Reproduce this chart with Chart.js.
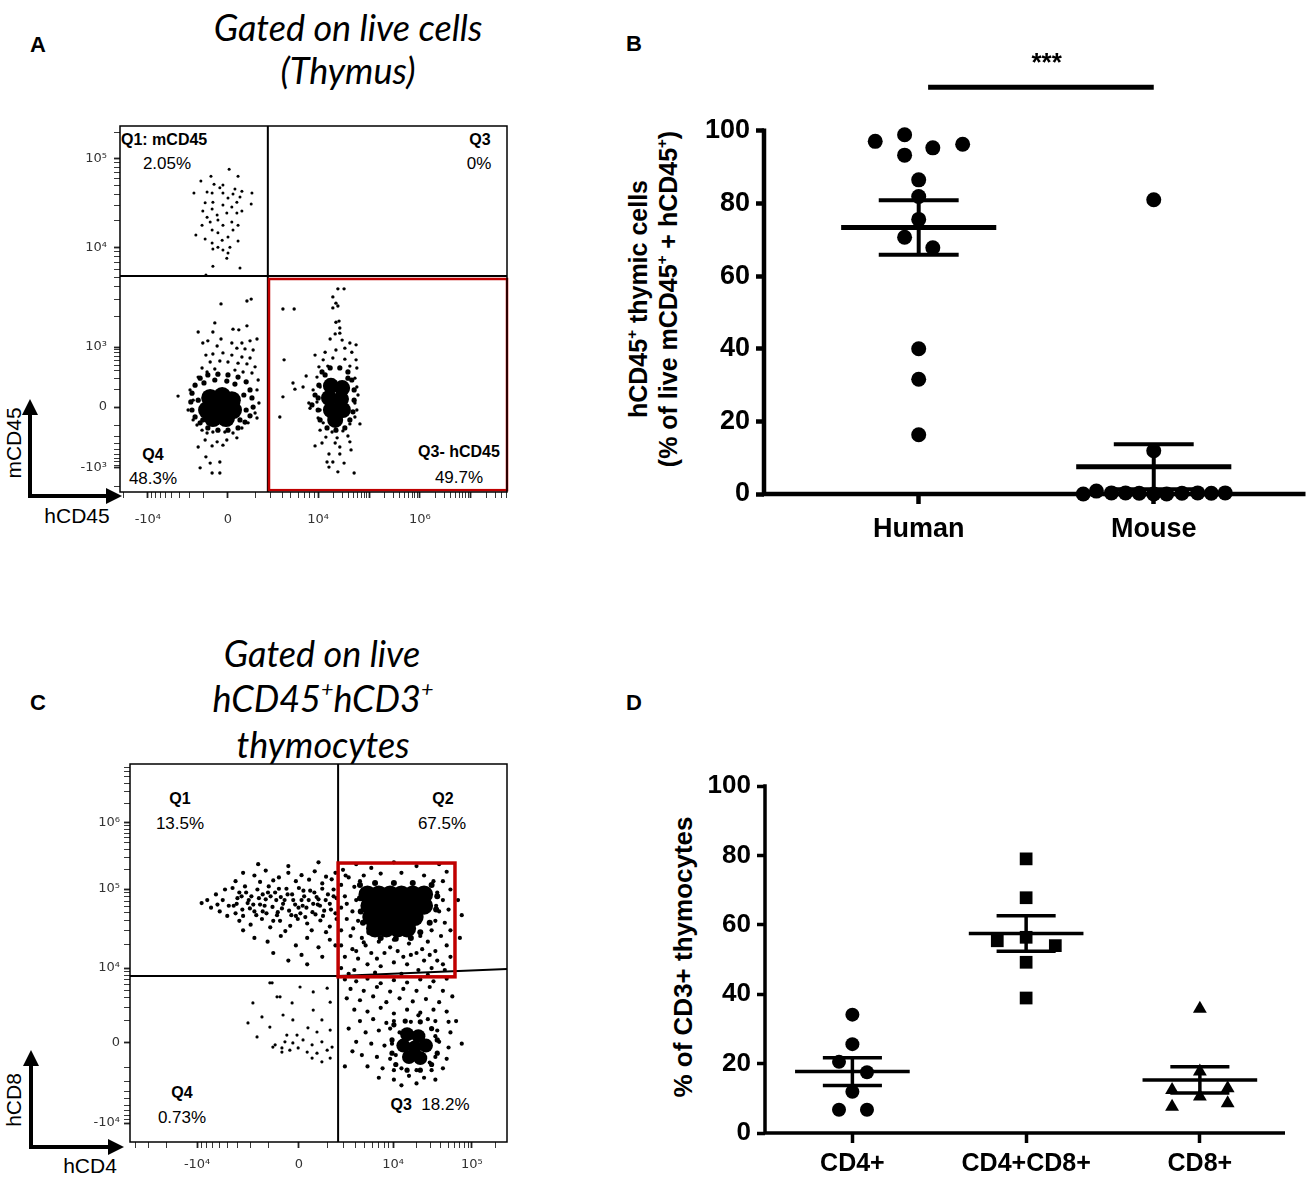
<!DOCTYPE html>
<html>
<head>
<meta charset="utf-8">
<script src="https://cdn.jsdelivr.net/npm/chart.js@4.4.1/dist/chart.umd.min.js"></script>
<style>
  body { margin: 0; width: 1313px; height: 1178px; position: relative; background: #fff; overflow: hidden;
         font-family: "Liberation Sans", Arial, sans-serif; color: #000; }
  canvas { position: absolute; }
  .t { position: absolute; transform: translate(-50%, -50%); white-space: nowrap; line-height: 1; }
  .l { position: absolute; transform: translate(0, -50%); white-space: nowrap; line-height: 1; }
  .rot { transform: translate(-50%, -50%) rotate(-90deg); }
  .letter { font-weight: bold; font-size: 22px; }
  .title { font-family: Lato, "Liberation Sans", sans-serif; font-style: italic; font-size: 36px; }
  .qb { font-weight: bold; font-size: 16px; }
  .qn { font-size: 17px; }
  .ax { font-size: 21px; }
  sup { font-size: 60%; vertical-align: 0.7em; line-height: 0; }
</style>
</head>
<body>

<svg style="position:absolute;left:0;top:0" width="1313" height="1178">
  <g stroke="#000" stroke-width="4" fill="none">
    <path d="M30,498 V412 M28,496 H108"/>
    <path d="M31,1149 V1064 M29,1147 H110"/>
  </g>
  <g fill="#000">
    <polygon points="30,399 22,415 38,415"/>
    <polygon points="122,496 106,488 106,504"/>
    <polygon points="31,1050 23,1066 39,1066"/>
    <polygon points="124,1147 108,1139 108,1155"/>
  </g>
</svg>

<!-- panel A text -->
<div class="t letter" style="left:38px;top:45px">A</div>
<div class="t title" style="left:348px;top:27px">Gated on live cells</div>
<div class="t title" style="left:348px;top:70px">(Thymus)</div>
<div class="l qb" style="left:121px;top:140px">Q1: mCD45</div>
<div class="t qn" style="left:167px;top:163px">2.05%</div>
<div class="t qb" style="left:480px;top:140px">Q3</div>
<div class="t qn" style="left:479px;top:163px">0%</div>
<div class="t qb" style="left:153px;top:455px">Q4</div>
<div class="t qn" style="left:153px;top:478px">48.3%</div>
<div class="t qb" style="left:459px;top:452px">Q3- hCD45</div>
<div class="t qn" style="left:459px;top:477px">49.7%</div>
<div class="t ax rot" style="left:13px;top:443px">mCD45</div>
<div class="t ax" style="left:77px;top:515px">hCD45</div>

<!-- panel B text -->
<div class="t letter" style="left:634px;top:44px">B</div>
<div class="t rot" style="left:653px;top:299px;font-weight:bold;font-size:25px;line-height:30px;text-align:center">hCD45<sup>+</sup> thymic cells<br>(% of live mCD45<sup>+</sup> + hCD45<sup>+</sup>)</div>

<!-- panel C text -->
<div class="t letter" style="left:38px;top:703px">C</div>
<div class="t title" style="left:322px;top:653px">Gated on live</div>
<div class="t title" style="left:323px;top:698px">hCD45<sup>+</sup>hCD3<sup>+</sup></div>
<div class="t title" style="left:323px;top:744px">thymocytes</div>
<div class="t qb" style="left:180px;top:799px">Q1</div>
<div class="t qn" style="left:180px;top:823px">13.5%</div>
<div class="t qb" style="left:443px;top:799px">Q2</div>
<div class="t qn" style="left:442px;top:823px">67.5%</div>
<div class="t qb" style="left:182px;top:1093px">Q4</div>
<div class="t qn" style="left:182px;top:1117px">0.73%</div>
<div class="t qn" style="left:430px;top:1104px"><b style="font-size:16px">Q3</b>&nbsp; 18.2%</div>
<div class="t ax rot" style="left:13px;top:1100px">hCD8</div>
<div class="t ax" style="left:90px;top:1165px">hCD4</div>

<!-- panel D text -->
<div class="t letter" style="left:634px;top:703px">D</div>
<div class="t rot" style="left:683px;top:957px;font-weight:bold;font-size:26px">% of CD3+ thymocytes</div>

<canvas id="chartA" width="460" height="430" style="left:60px;top:110px"></canvas>
<canvas id="chartB" width="713" height="530" style="left:600px;top:30px"></canvas>
<canvas id="chartC" width="460" height="428" style="left:60px;top:750px"></canvas>
<canvas id="chartD" width="673" height="438" style="left:640px;top:740px"></canvas>

<script>
// ---- panel A: flow events (display channel 0-1000 on each axis) ----
const aQ1 = [[282,882],[235,863],[305,863],[209,850],[243,841],[266,839],[191,817],[225,820],[258,831],[297,828],
  [315,822],[341,817],[238,817],[266,817],[292,814],[310,806],[220,790],[240,792],[279,803],[302,792],[339,787],
  [214,768],[238,773],[266,784],[289,779],[315,768],[225,751],[251,757],[276,762],[302,762],[233,738],[253,743],
  [289,738],[305,729],[212,729],[266,729],[238,716],[292,716],[196,702],[253,708],[279,697],[220,691],[264,688],
  [305,686],[238,680],[253,669],[284,669],[266,661],[240,664],[279,653],[276,639],[240,617],[310,612],[222,593]];
const aQ4Core = [[233,257],[264,262],[289,251],[225,224],[258,229],[292,224],[240,202],[274,202]];
const aQ4Ring = [[194,292],[207,311],[227,320],[253,322],[279,320],[305,314],[326,301],[336,279],[341,257],
  [344,232],[336,208],[323,191],[305,175],[279,169],[253,169],[227,175],[207,189],[194,205],[186,224],[183,246],
  [186,270],[217,298],[297,295],[320,265],[326,224],[310,197],[214,197],[202,251],[245,306],[276,303]];
const aQ4 = [[261,514],[328,522],[339,527],[245,462],[202,437],[240,437],[292,445],[307,443],[328,454],[214,407],
  [227,413],[261,418],[289,407],[315,407],[336,413],[354,418],[251,399],[302,393],[323,391],[344,388],[222,374],
  [240,377],[266,380],[289,374],[315,369],[336,366],[233,355],[258,358],[279,355],[305,352],[328,350],[349,342],
  [212,339],[225,328],[245,336],[297,333],[318,328],[341,325],[357,306],[202,314],[150,262],[181,279],[189,251],
  [176,224],[354,279],[359,243],[349,216],[354,202],[189,197],[199,183],[212,169],[225,161],[240,164],[271,164],
  [292,161],[315,175],[331,189],[220,142],[251,137],[276,142],[302,148],[202,123],[238,126],[266,128],[222,96],
  [233,79],[258,82],[207,66],[238,52],[258,52]];
const aQ3Core = [[545,290],[574,284],[540,257],[571,254],[545,224],[576,224],[556,197]];
const aQ3Ring = [[522,328],[543,339],[568,339],[589,328],[599,306],[605,279],[605,251],[602,219],[594,197],
  [581,175],[558,169],[535,175],[517,197],[512,224],[512,257],[514,292],[530,320],[504,265],[496,238],[589,311]];
const aQ3 = [[563,555],[579,555],[550,533],[558,516],[563,508],[550,503],[421,500],[450,500],[558,464],[566,467],
  [568,448],[556,432],[568,434],[543,418],[574,415],[594,407],[610,402],[530,382],[558,388],[581,393],[599,382],
  [504,374],[525,361],[550,366],[581,363],[610,361],[424,361],[514,342],[537,344],[594,344],[612,339],[481,317],
  [509,314],[607,311],[447,298],[473,287],[452,281],[499,279],[517,287],[612,287],[615,265],[421,260],[488,243],
  [509,246],[607,243],[491,229],[517,224],[612,224],[413,205],[512,202],[607,205],[525,189],[620,186],[594,186],
  [517,169],[548,164],[576,167],[532,150],[561,148],[589,153],[522,134],[556,134],[594,137],[504,126],[568,123],
  [597,115],[540,104],[568,104],[535,82],[550,82],[579,79],[540,68],[563,55],[605,52]];
const aXMajor = [72, 279, 512, 643.5, 775, 906.5];
const aXLabels = ["-10⁴", "0", "10⁴", "", "10⁶", ""];
const aYMajor = [66, 232, 396, 669, 910];
const aYLabels = ["-10³", "0", "10³", "10⁴", "10⁵"];
const aQuad = { x: 382, yL: 590, yR: 590 };
const aGate = { x1: 385, x2: 1000, y1: 5, y2: 582 };

// ---- panel C: flow events ----
const cQ1 = [[190,632],[205,640],[215,620],[228,655],[238,610],[246,640],[252,668],[258,598],[232,628],[262,625],
  [300,712],[330,705],[360,718],[395,700],[420,712],[455,706],[490,716],[520,702],[545,712],[280,690],[345,688],
  [380,692],[440,690],[475,694],[510,684],[535,695],[272,672],[290,660],[305,676],[322,650],[338,668],[352,655],
  [368,676],[385,660],[400,648],[415,670],[430,655],[448,672],[462,650],[478,665],[495,648],[510,670],[525,655],
  [540,668],[285,645],[315,640],[360,642],[410,640],[455,640],[500,642],[548,645],[275,625],[298,615],[312,632],
  [330,610],[345,628],[362,605],[378,622],[392,608],[406,630],[422,612],[438,628],[452,605],[468,620],[484,608],
  [498,628],[515,612],[530,630],[545,605],[280,605],[335,600],[390,600],[440,598],[492,602],[290,585],[320,575],
  [350,590],[372,568],[398,585],[425,572],[445,590],[470,578],[505,586],[530,570],[548,590],[300,560],[412,558],
  [482,560],[520,555],[330,540],[365,530],[400,545],[440,520],[470,540],[500,515],[530,535],[380,500],[455,495],
  [510,490],[545,520],[420,480],[470,470],[340,735],[420,730],[500,740],
  [296,650],[308,660],[327,628],[342,645],[357,625],[373,650],[388,640],[403,618],[418,655],[433,640],[447,620],
  [460,665],[474,640],[489,660],[504,625],[519,640],[533,615],[540,650],[318,618],[366,660],[395,670],[428,600],
  [458,625],[486,630],[512,598],[283,630],[300,598],[352,610],[380,585],[465,595]];
const cQ2Core = [[630,655],[660,655],[690,655],[720,655],[750,655],[780,655],
  [635,625],[665,625],[695,625],[725,625],[755,625],[780,625],
  [640,595],[670,595],[700,595],[730,595],[755,595],
  [650,565],[680,565],[710,565],[735,565]];
const cQ2Ring = [[610,680],[650,685],[700,685],[750,685],[800,680],[815,650],[812,615],[795,580],[770,555],
  [745,540],[705,538],[665,540],[635,555],[618,580],[612,610],[610,645]];
const cQ2 = [[565,720],[600,735],[640,725],[700,740],[760,730],[820,735],[580,700],[620,705],[665,710],[720,712],
  [780,705],[840,715],[560,680],[595,675],[830,690],[850,668],[815,660],[570,650],[600,640],[830,640],[845,615],
  [820,610],[560,620],[590,610],[605,585],[575,590],[810,585],[835,580],[800,560],[560,560],[585,545],[615,540],
  [770,545],[790,530],[825,545],[850,560],[560,520],[590,510],[625,520],[660,530],[700,535],[740,525],[775,510],
  [810,505],[840,520],[570,490],[605,485],[640,500],[675,500],[710,505],[745,495],[780,480],[815,480],[850,490],
  [560,460],[595,455],[630,470],[665,465],[700,475],[735,470],[765,455],[800,460],[835,455],[580,445],[650,448],
  [720,445],[790,442],[620,528],[690,515],[760,500],[870,640],[880,600],[875,540],[572,705],[610,690],[805,690],
  [575,630],[592,565],[812,625],[600,505],[655,485],[725,490],[795,495],[830,470]];
const cQ3Core = [[735,285],[765,280],[725,255],[755,250],[785,255],[740,225],[770,222]];
const cQ3Ring = [[700,310],[730,320],[770,318],[800,300],[815,270],[815,235],[800,205],[770,190],[735,190],
  [705,205],[695,235],[695,270]];
const cQ3 = [[570,430],[600,425],[630,432],[665,420],[700,428],[735,422],[770,430],[805,425],[840,432],[585,405],
  [620,400],[655,410],[690,398],[725,405],[760,400],[795,410],[830,400],[575,380],[610,375],[645,385],[680,370],
  [715,380],[750,372],[785,378],[820,370],[855,385],[595,350],[630,345],[665,355],[700,340],[735,350],[770,342],
  [805,350],[840,345],[610,320],[645,325],[680,315],[765,335],[810,320],[845,318],[580,300],[625,290],[660,295],
  [690,300],[815,295],[850,290],[600,265],[640,260],[675,255],[820,265],[845,250],[615,230],[655,225],[690,220],
  [810,225],[840,220],[630,200],[670,195],[700,190],[800,190],[830,195],[660,170],[700,165],[740,175],[780,170],
  [810,165],[720,150],[760,155],[590,240],[570,200],[865,320],[880,260],
  [700,320],[745,318],[790,325],[695,260],[810,280],[705,230],[795,210],[720,195],[760,190],[715,290]];
const cQ4 = [[377,421],[451,410],[523,407],[398,384],[486,397],[430,368],[531,370],[486,349],[350,331],[406,336],
  [509,323],[371,304],[432,323],[472,302],[337,278],[416,283],[443,283],[496,291],[531,296],[385,257],[411,265],
  [432,262],[459,270],[483,257],[509,265],[536,251],[446,249],[470,238],[496,235],[523,243],[424,243],[403,249],
  [483,222],[509,212],[531,222],[326,368],[313,315],[390,384],[379,251],[403,238],[371,421]];
const cXMajor = [178, 448, 698, 907];
const cXLabels = ["-10⁴", "0", "10⁴", "10⁵"];
const cYMajor = [50, 262, 460, 669, 844];
const cYLabels = ["-10⁴", "0", "10⁴", "10⁵", "10⁶"];
const cQuad = { x: 552, yL: 439, yR: 458 };
const cGate = { x1: 552, x2: 862, y1: 437, y2: 738 };

// ---- panel B: % hCD45+ thymic cells ----
const groupsB = ["Human", "Mouse"];
const humanB = [97.1, 98.9, 96.3, 93.3, 95.3, 86.5, 81.9, 75.6, 70.7, 67.8, 40.0, 31.6, 16.3];
const humanJitterB = [-0.185, -0.06, 0.187, -0.06, 0.06, 0, 0, 0, -0.06, 0.06, 0, 0, 0];
const mouseB = [81.0, 11.9, 0, 0.8, 0.3, 0.3, 0.2, 0, 0, 0.2, 0.3, 0.2, 0.3];
const mouseJitterB = [0, 0, -0.30, -0.244, -0.18, -0.12, -0.062, 0, 0.055, 0.12, 0.187, 0.245, 0.304];
const meanB = [73.4, 7.5];
const semB = [7.5, 6.2];
const sigB = { x1: 1.04, x2: 2.0, y: 112, tx: 1.544, ty: 116.5, text: "***" };

// ---- panel D: % of CD3+ thymocytes ----
const groupsD = ["CD4+", "CD4+CD8+", "CD8+"];
const cd4D = [34.1, 25.6, 20.5, 17.5, 11.9, 6.7, 6.7];
const cd4JitterD = [0, 0, -0.077, 0.084, 0, -0.077, 0.084];
const cd48D = [79.0, 67.8, 56.4, 55.4, 54.0, 49.2, 38.9];
const cd48JitterD = [0, 0, 0, -0.166, 0.168, 0, 0];
const cd8D = [35.8, 17.7, 12.4, 12.9, 10.5, 7.6, 8.6];
const cd8JitterD = [0, 0, -0.16, 0.16, 0, -0.16, 0.16];
const meanD = [17.7, 57.5, 15.3];
const semD = [4.0, 5.1, 3.8];

Chart.defaults.font.family = "'Liberation Sans', Arial, sans-serif";
Chart.defaults.color = "#000";

// minor tick positions inside one displayed decade (a = 10^n, b = 10^(n+1))
function logSteps(a, b) {
    let out = [];
    for (let k = 2; k < 10; k++) out.push(a + Math.log10(k) * (b - a));
    return out;
}

function toPts(arr) {
    return arr.map(p => ({ x: p[0], y: p[1] }));
}

// fixed axis box, no extra room for overhanging labels
function fixBox(s, size) {
    if (s.isHorizontal()) s.height = size;
    else s.width = size;
    s.paddingTop = 0;
    s.paddingBottom = 0;
    s.paddingLeft = 0;
    s.paddingRight = 0;
}

function flowAxis(major, labels, minor, size, pad) {
    const all = major.concat(minor).filter(v => v >= 0 && v <= 1000);
    return {
        type: "linear",
        min: 0,
        max: 1000,
        afterBuildTicks: s => { s.ticks = all.map(v => ({ value: v })); },
        afterFit: s => fixBox(s, size),
        ticks: {
            autoSkip: false,
            maxRotation: 0,
            padding: pad,
            color: "#333",
            font: { family: "'DejaVu Sans', sans-serif", size: 13 },
            callback: v => {
                const i = major.indexOf(v);
                return i < 0 ? "" : labels[i];
            },
        },
        grid: {
            drawOnChartArea: false,
            tickLength: 6,
            tickColor: "#222",
            tickWidth: c => (c.tick && major.includes(c.tick.value)) ? 1.8 : 0.9,
        },
        border: { display: false },
    };
}

function flowChart(id, o) {
    const sets = o.sets.map(s => ({
        data: toPts(s.pts),
        pointRadius: s.r,
        pointHoverRadius: s.r,
        pointBackgroundColor: "#000",
        pointBorderWidth: 0,
    }));
    return new Chart(document.getElementById(id), {
        type: "scatter",
        data: { datasets: sets },
        options: {
            responsive: false,
            animation: false,
            events: [],
            layout: { padding: o.pad },
            plugins: { legend: { display: false }, tooltip: { enabled: false } },
            scales: { x: o.x, y: o.y },
        },
        plugins: [{
            id: "flowLines",
            afterDatasetsDraw(chart) {
                const { ctx, chartArea: a, scales: { x, y } } = chart;
                ctx.save();
                ctx.strokeStyle = "#000";
                ctx.lineWidth = 2;
                const qx = x.getPixelForValue(o.quad.x);
                ctx.beginPath();
                ctx.moveTo(qx, a.top);
                ctx.lineTo(qx, a.bottom);
                ctx.moveTo(a.left, y.getPixelForValue(o.quad.yL));
                ctx.lineTo(qx, y.getPixelForValue(o.quad.yL));
                ctx.lineTo(a.right, y.getPixelForValue(o.quad.yR));
                ctx.stroke();
                // gate
                ctx.strokeStyle = "#c00000";
                ctx.lineWidth = o.gateW;
                const gx1 = x.getPixelForValue(o.gate.x1), gx2 = x.getPixelForValue(o.gate.x2);
                const gy1 = y.getPixelForValue(o.gate.y1), gy2 = y.getPixelForValue(o.gate.y2);
                ctx.strokeRect(gx1, gy2, gx2 - gx1, gy1 - gy2);
                // frame
                ctx.strokeStyle = "#000";
                ctx.lineWidth = 1.5;
                ctx.strokeRect(a.left, a.top, a.width, a.height);
                ctx.restore();
            },
        }],
    });
}

// mean line, SEM caps and whisker for every group
function errorSets(means, sems, lwMean, lwCap) {
    let sets = [];
    const seg = (pts, lw) => sets.push({
        data: toPts(pts),
        showLine: true,
        borderColor: "#000",
        borderWidth: lw,
        pointRadius: 0,
        clip: false,
    });
    means.forEach((m, i) => {
        const g = i + 1, s = sems[i];
        seg([[g - 0.33, m], [g + 0.33, m]], lwMean);
        seg([[g - 0.17, m + s], [g + 0.17, m + s]], lwCap);
        seg([[g - 0.17, m - s], [g + 0.17, m - s]], lwCap);
        seg([[g, m - s], [g, m + s]], lwCap);
    });
    return sets;
}

function dotSet(values, jitter, group, style, r) {
    return {
        data: values.map((v, i) => ({ x: group + jitter[i], y: v })),
        pointStyle: style,
        pointRadius: r,
        pointHoverRadius: r,
        pointBackgroundColor: "#000",
        pointBorderColor: "#000",
        pointBorderWidth: 0,
        clip: false,
    };
}

function dotChart(id, o) {
    return new Chart(document.getElementById(id), {
        type: "scatter",
        data: { datasets: o.sets },
        options: {
            responsive: false,
            animation: false,
            events: [],
            layout: { padding: o.pad },
            plugins: { legend: { display: false }, tooltip: { enabled: false } },
            scales: {
                x: {
                    type: "linear",
                    min: o.xmin,
                    max: o.xmax,
                    afterBuildTicks: s => { s.ticks = o.groups.map((g, i) => ({ value: i + 1 })); },
                    afterFit: s => fixBox(s, o.xH),
                    ticks: {
                        autoSkip: false,
                        maxRotation: 0,
                        padding: o.xPad,
                        font: { size: o.xFont, weight: "bold" },
                        callback: (v, i) => o.groups[i],
                    },
                    grid: { drawOnChartArea: false, tickLength: 10, tickWidth: o.lw, tickColor: "#000" },
                    border: { display: false },
                },
                y: {
                    min: 0,
                    max: o.ymax,
                    afterBuildTicks: s => { s.ticks = s.ticks.filter(t => t.value <= 100); },
                    afterFit: s => fixBox(s, o.yW),
                    ticks: { stepSize: 20, padding: 6, font: { size: o.yFont, weight: "bold" } },
                    grid: { drawOnChartArea: false, tickLength: 8, tickWidth: o.lw, tickColor: "#000" },
                    border: { display: false },
                },
            },
        },
        plugins: [{
            id: "axisLines",
            beforeDatasetsDraw(chart) {
                const { ctx, chartArea: a, scales: { x, y } } = chart;
                const y0 = y.getPixelForValue(0);
                ctx.save();
                ctx.strokeStyle = "#000";
                ctx.lineWidth = o.lw;
                ctx.beginPath();
                ctx.moveTo(a.left - o.lw / 2, y0);
                ctx.lineTo(a.right, y0);
                ctx.moveTo(a.left, y0);
                ctx.lineTo(a.left, y.getPixelForValue(100) - o.lw / 2);
                ctx.stroke();
                ctx.restore();
            },
            afterDatasetsDraw(chart) {
                if (!o.sig) return;
                const { ctx, scales: { x, y } } = chart;
                const sy = y.getPixelForValue(o.sig.y);
                ctx.save();
                ctx.strokeStyle = "#000";
                ctx.lineWidth = 5;
                ctx.beginPath();
                ctx.moveTo(x.getPixelForValue(o.sig.x1), sy);
                ctx.lineTo(x.getPixelForValue(o.sig.x2), sy);
                ctx.stroke();
                ctx.fillStyle = "#000";
                ctx.font = "bold 26px 'Liberation Sans', Arial, sans-serif";
                ctx.textAlign = "center";
                ctx.fillText(o.sig.text, x.getPixelForValue(o.sig.tx), y.getPixelForValue(o.sig.ty));
                ctx.restore();
            },
        }],
    });
}

// panel A
flowChart("chartA", {
    pad: { top: 16, right: 13, bottom: 0, left: 0 },
    sets: [
        { pts: aQ4Core, r: 9 },
        { pts: aQ3Core, r: 8 },
        { pts: aQ4Ring, r: 2.6 },
        { pts: aQ3Ring, r: 2.6 },
        { pts: aQ1, r: 1.5 },
        { pts: aQ4, r: 1.7 },
        { pts: aQ3, r: 1.7 },
    ],
    x: flowAxis(aXMajor, aXLabels,
        [].concat(logSteps(279, 512), logSteps(512, 643.5), logSteps(643.5, 775), logSteps(775, 906.5),
                  logSteps(906.5, 1038), logSteps(279, 72), logSteps(72, -135)), 48, 14),
    y: flowAxis(aYMajor, aYLabels,
        [].concat(logSteps(232, 396), logSteps(396, 669), logSteps(669, 910), logSteps(910, 1151),
                  logSteps(232, 66), logSteps(66, -100)), 60, 7),
    quad: aQuad,
    gate: aGate,
    gateW: 2.5,
});

// panel C
flowChart("chartC", {
    pad: { top: 14, right: 13, bottom: 0, left: 0 },
    sets: [
        { pts: cQ2Core, r: 9 },
        { pts: cQ3Core, r: 7 },
        { pts: cQ2Ring, r: 3 },
        { pts: cQ3Ring, r: 2.6 },
        { pts: cQ1, r: 2.1 },
        { pts: cQ2, r: 2.1 },
        { pts: cQ3, r: 2.1 },
        { pts: cQ4, r: 1.6 },
    ],
    x: flowAxis(cXMajor, cXLabels,
        [].concat(logSteps(448, 698), logSteps(698, 907), logSteps(907, 1116), logSteps(448, 178),
                  logSteps(178, -92)), 36, 9),
    y: flowAxis(cYMajor, cYLabels,
        [].concat(logSteps(262, 460), logSteps(460, 669), logSteps(669, 844), logSteps(844, 1019),
                  logSteps(262, 50), logSteps(50, -162)), 70, 4),
    quad: cQuad,
    gate: cGate,
    gateW: 3.5,
});

// panel B
dotChart("chartB", {
    pad: { top: 10, right: 3, bottom: 0, left: 0 },
    groups: groupsB,
    xmin: 0.3418,
    xmax: 2.6456,
    ymax: 125,
    xH: 66,
    yW: 164,
    xPad: 9,
    xFont: 27,
    yFont: 27,
    lw: 4.5,
    sig: sigB,
    sets: [
        dotSet(humanB, humanJitterB, 1, "circle", 7.5),
        dotSet(mouseB, mouseJitterB, 2, "circle", 7.5),
    ].concat(errorSets(meanB, semB, 5, 4)),
});

// panel D
dotChart("chartD", {
    pad: { top: 46, right: 28, bottom: 0, left: 0 },
    groups: groupsD,
    xmin: 0.497,
    xmax: 3.49,
    ymax: 100,
    xH: 45,
    yW: 125,
    xPad: 6,
    xFont: 25,
    yFont: 26,
    lw: 3.5,
    sets: [
        dotSet(cd4D, cd4JitterD, 1, "circle", 7),
        dotSet(cd48D, cd48JitterD, 2, "rect", 9),
        dotSet(cd8D, cd8JitterD, 3, "triangle", 8),
    ].concat(errorSets(meanD, semD, 3.5, 3.5)),
});
</script>
</body>
</html>
